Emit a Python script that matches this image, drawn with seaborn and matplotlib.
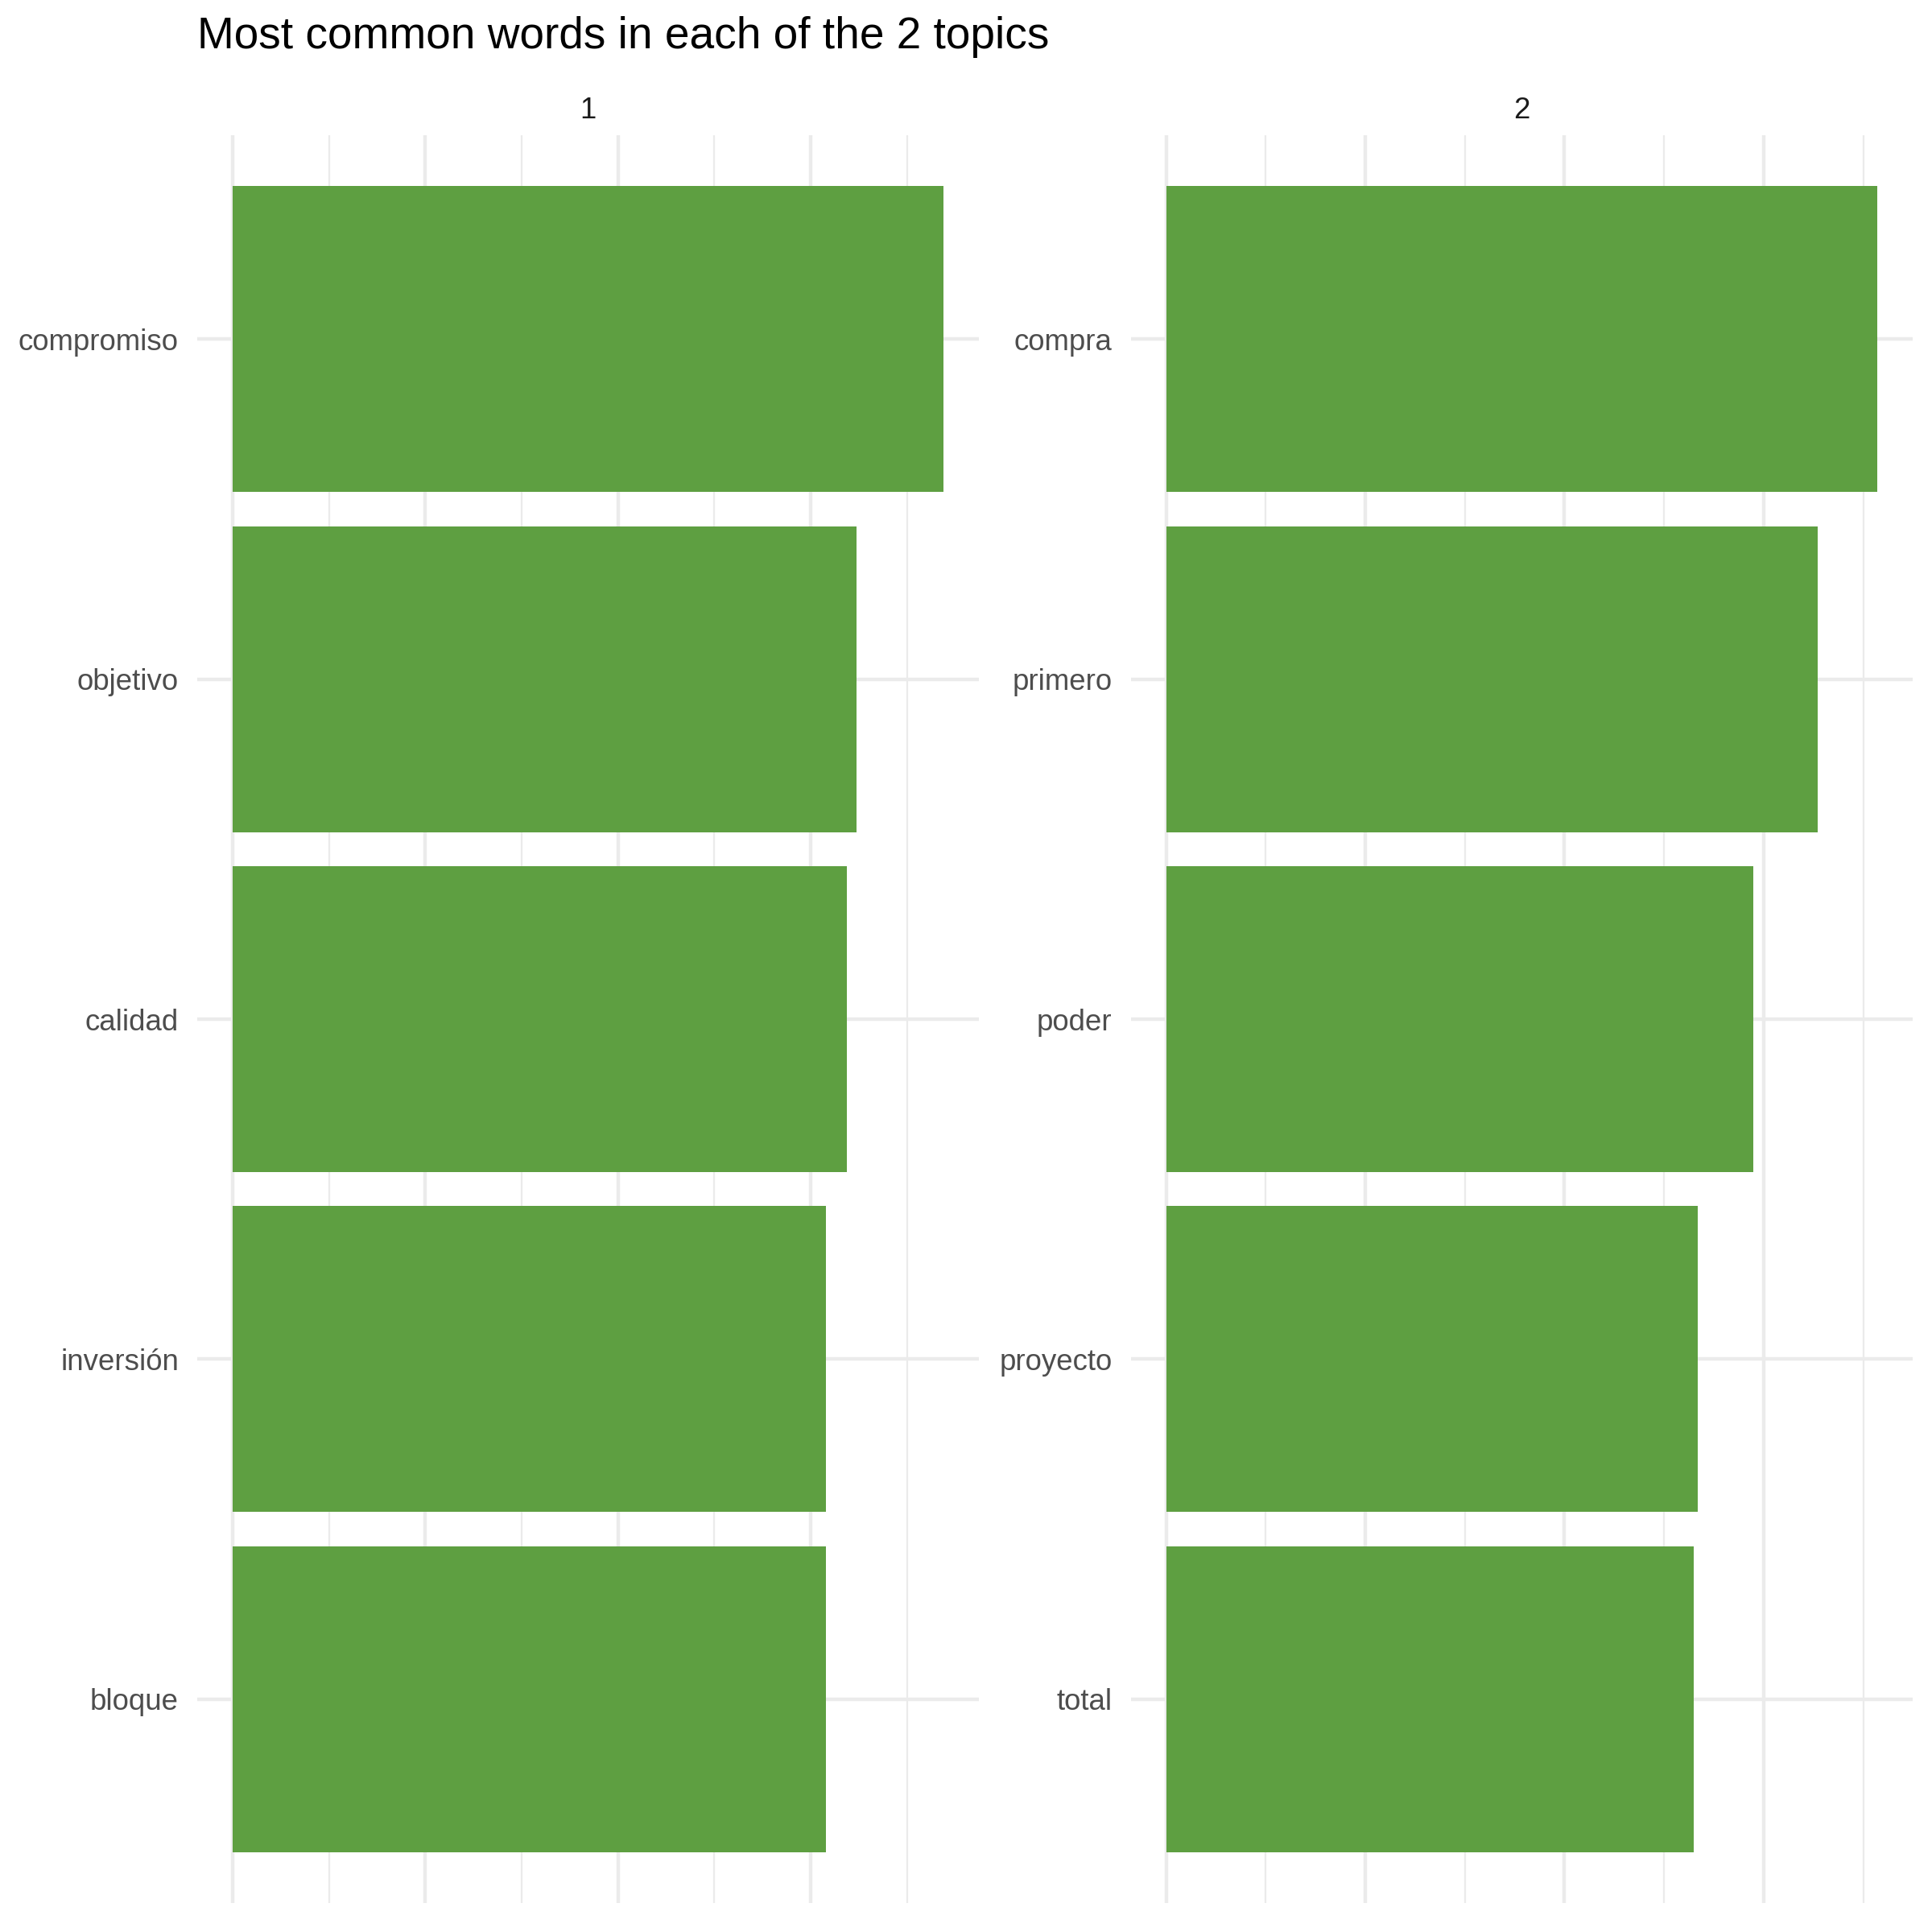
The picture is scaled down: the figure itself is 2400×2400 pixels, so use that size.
import numpy as np
import pandas as pd
import matplotlib
matplotlib.use("Agg")
import matplotlib.pyplot as plt
import seaborn as sns

title = "Most common words in each of the 2 topics"
topic_1_terms = ["compromiso", "objetivo", "calidad", "inversión", "bloque"]
topic_1_beta = [0.0369, 0.0324, 0.0319, 0.0308, 0.0308]
topic_2_terms = ["compra", "primero", "poder", "proyecto", "total"]
topic_2_beta = [0.0357, 0.0327, 0.0295, 0.0267, 0.0265]

bar_color = "#5E9F41"
grid_color = "#EBEBEB"

sns.set_theme(style="white")
plt.rcParams["font.family"] = ["Liberation Sans", "DejaVu Sans"]

df = pd.concat([
    pd.DataFrame({"topic": 1, "term": topic_1_terms, "beta": topic_1_beta}),
    pd.DataFrame({"topic": 2, "term": topic_2_terms, "beta": topic_2_beta}),
], ignore_index=True)

fig, axes = plt.subplots(1, 2, figsize=(8, 8), dpi=300)
fig.subplots_adjust(left=0.102, right=0.990, bottom=0.015, top=0.930, wspace=0.194)

for ax, (topic, sub) in zip(axes, df.groupby("topic")):
    sns.barplot(data=sub, x="beta", y="term", orient="h", color=bar_color,
                saturation=1, width=0.9, linewidth=0, ax=ax)
    mx = sub["beta"].max()
    ax.set_xlim(-0.05 * mx, 1.05 * mx)
    ax.set_ylim(len(sub) - 0.4, -0.6)
    ax.set_xticks([0, 0.01, 0.02, 0.03])
    ax.set_xticks([0.005, 0.015, 0.025, 0.035], minor=True)
    ax.set_axisbelow(True)
    ax.grid(which="major", color=grid_color, linewidth=1.07)
    ax.grid(which="minor", axis="x", color=grid_color, linewidth=0.53)
    ax.tick_params(axis="both", which="both", length=0, labelbottom=False)
    ax.tick_params(axis="y", labelsize=8.8, labelcolor="#4D4D4D", pad=5.5)
    ax.set_xlabel("")
    ax.set_ylabel("")
    ax.set_title(str(topic), fontsize=8.8, color="#1A1A1A", pad=5)
    sns.despine(ax=ax, left=True, bottom=True)

fig.text(0.102, 1 - 30 / 1568, title, ha="left", va="center", fontsize=13.2, color="black")

fig.savefig("out.png", dpi=300, facecolor="white")
